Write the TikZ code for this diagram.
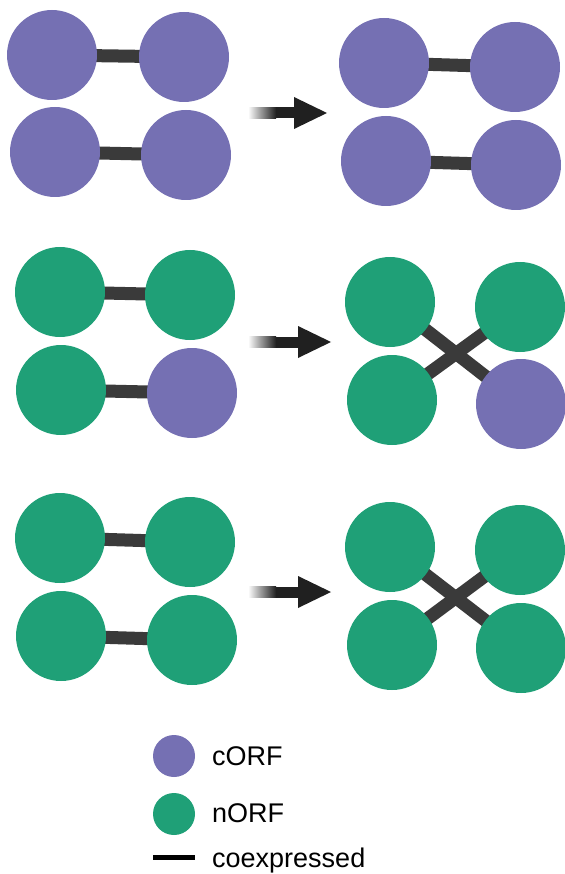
\documentclass[tikz,border=0pt]{standalone}
\usepackage{fontspec}
\setmainfont{Liberation Sans}
\usetikzlibrary{backgrounds}
\definecolor{corf}{HTML}{7570B3}
\definecolor{norf}{HTML}{1FA077}
\definecolor{linkc}{HTML}{3A3A3A}
\definecolor{arrc}{HTML}{202020}
\tikzset{
  orf/.style={circle, inner sep=0pt, minimum size=90pt, draw=none},
  cnode/.style={orf, fill=corf},
  nnode/.style={orf, fill=norf},
  link/.style={draw=linkc, line width=13pt},
  lgnd/.style={circle, inner sep=0pt, minimum size=42pt, draw=none},
  lbl/.style={anchor=base west, inner sep=0pt, font=\fontsize{27}{32}\selectfont},
}
\newcommand{\bigarrow}[2]{%
  \shade[left color=white, right color=arrc] (248,#2-5.5) rectangle (276,#2+5.5);
  \fill[arrc] (275.5,#2-5.5) rectangle (#1+1,#2+5.5);
  \fill[arrc] (#1,#2-16) -- (#1+33,#2) -- (#1,#2+16) -- cycle;
}
\begin{document}
\begin{tikzpicture}[x=1pt,y=-1pt]
\useasboundingbox (0,0) rectangle (564,874);
% Row 1 left
\node[cnode] (a1) at (52,55) {};
\node[cnode] (b1) at (184,57) {};
\node[cnode] (c1) at (55,152) {};
\node[cnode] (d1) at (186,155) {};
% Row 1 right
\node[cnode] (e1) at (384,63) {};
\node[cnode] (f1) at (515,67) {};
\node[cnode] (g1) at (386,161) {};
\node[cnode] (h1) at (516,165) {};
% Row 2 left
\node[nnode] (a2) at (60,292) {};
\node[nnode] (b2) at (190,295) {};
\node[nnode] (c2) at (61,390) {};
\node[cnode] (d2) at (192,393) {};
% Row 2 right
\node[nnode] (e2) at (390,302) {};
\node[nnode] (f2) at (520,307) {};
\node[nnode] (g2) at (392,400) {};
\node[cnode] (h2) at (521,404) {};
% Row 3 left
\node[nnode] (a3) at (60,538) {};
\node[nnode] (b3) at (190,542) {};
\node[nnode] (c3) at (61,636) {};
\node[nnode] (d3) at (192,640) {};
% Row 3 right
\node[nnode] (e3) at (390,547) {};
\node[nnode] (f3) at (520,550) {};
\node[nnode] (g3) at (392,645) {};
\node[nnode] (h3) at (521,648) {};
\begin{pgfonlayer}{background}
\draw[link] (a1.center) -- (b1.center);
\draw[link] (c1.center) -- (d1.center);
\draw[link] (e1.center) -- (f1.center);
\draw[link] (g1.center) -- (h1.center);
\draw[link] (a2.center) -- (b2.center);
\draw[link] (c2.center) -- (d2.center);
\draw[link] (e2.center) -- (h2.center);
\draw[link] (f2.center) -- (g2.center);
\draw[link] (a3.center) -- (b3.center);
\draw[link] (c3.center) -- (d3.center);
\draw[link] (e3.center) -- (h3.center);
\draw[link] (f3.center) -- (g3.center);
\end{pgfonlayer}
% arrows
\bigarrow{294}{113}
\bigarrow{298}{342}
\bigarrow{298}{592}
% legend
\node[lgnd, fill=corf] (lc) at (174,756) {};
\node[lgnd, fill=norf] (ln) at (174,814) {};
\coordinate (l1) at (153,857);
\coordinate (l2) at (195,857);
\draw[black, line width=5pt] (l1) -- (l2);
\node[lbl] (tc) at (212,765) {cORF};
\node[lbl] (tn) at (212,822) {nORF};
\node[lbl] (te) at (212,867) {coexpressed};
\end{tikzpicture}
\end{document}
